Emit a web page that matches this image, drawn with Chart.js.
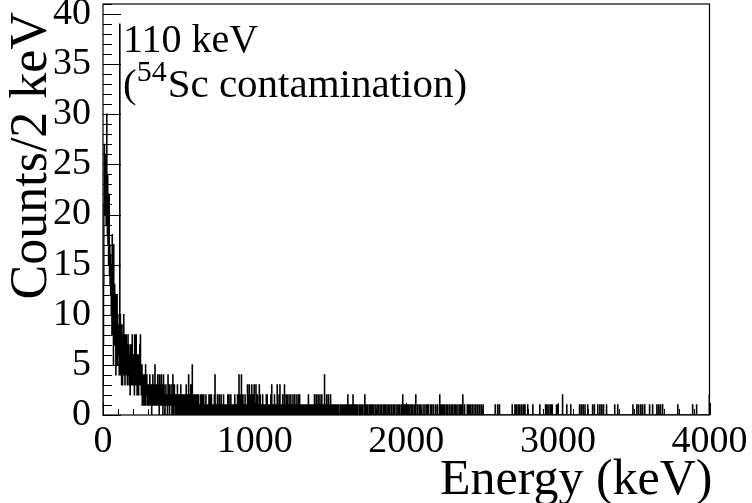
<!DOCTYPE html>
<html>
<head>
<meta charset="utf-8">
<script src="https://cdn.jsdelivr.net/npm/chart.js@4.4.1/dist/chart.umd.min.js"></script>
<style>
  html, body { margin: 0; padding: 0; background: #fff; }
  canvas { display: block; }
</style>
</head>
<body>
<canvas id="spectrum" width="752" height="503"></canvas>
<script>
// Energy spectrum, 2 keV bins from 0 to 4000 keV
const BIN_KEV = 2;
const E_MIN = 0;
const E_MAX = 4000;
const Y_MAX = 41;

const xTickStep = 1000;
const xMinorStep = 100;
const yTickStep = 5;
const yMinorStep = 1;

// Counts per 2 keV bin, 0 - 1000 keV (25 bins = 50 keV per line)
const lowCounts = [
  3, 7, 13, 21, 27, 24, 25, 20, 26, 22, 19, 23, 30, 21, 18, 24, 17, 20, 15, 19, 22, 14, 17, 13, 16,
  12, 15, 10, 14, 8, 18, 9, 13, 12, 5, 17, 11, 9, 13, 7, 10, 12, 4, 11, 6, 9, 12, 5, 10, 8,
  8, 6, 9, 4, 7, 39, 6, 10, 4, 8, 7, 3, 9, 6, 3, 8, 7, 5, 10, 4, 6, 8, 3, 7, 5,
  6, 8, 4, 7, 5, 3, 6, 8, 4, 5, 7, 3, 6, 4, 2, 5, 7, 4, 6, 3, 5, 8, 4, 6, 3,
  5, 4, 6, 2, 8, 5, 3, 7, 4, 8, 3, 5, 2, 6, 4, 3, 5, 2, 6, 3, 4, 7, 5, 8, 3,
  4, 2, 3, 5, 1, 3, 2, 4, 3, 1, 2, 4, 2, 3, 1, 5, 2, 3, 2, 4, 1, 3, 2, 1, 3,
  2, 1, 3, 2, 4, 1, 2, 3, 1, 2, 0, 3, 2, 1, 4, 2, 1, 3, 2, 1, 2, 5, 1, 3, 2,
  1, 2, 3, 1, 2, 4, 1, 2, 3, 2, 0, 4, 1, 3, 2, 1, 2, 4, 1, 2, 3, 1, 0, 2, 4,
  1, 3, 2, 1, 0, 2, 1, 3, 2, 1, 2, 1, 0, 2, 4, 1, 2, 1, 3, 0, 2, 1, 2, 1, 3,
  1, 2, 0, 1, 2, 4, 1, 0, 2, 1, 3, 1, 2, 0, 1, 2, 1, 0, 2, 1, 3, 1, 0, 2, 1,
  2, 1, 0, 1, 2, 1, 3, 0, 1, 2, 1, 0, 1, 2, 1, 0, 2, 1, 1, 0, 2, 1, 0, 1, 3,
  1, 0, 2, 1, 1, 0, 2, 4, 1, 0, 1, 2, 0, 1, 3, 1, 0, 2, 1, 5, 1, 0, 2, 1, 0,
  2, 1, 0, 1, 2, 0, 1, 1, 0, 2, 1, 0, 1, 0, 2, 1, 0, 1, 1, 0, 1, 2, 0, 1, 1,
  2, 0, 1, 2, 1, 0, 1, 2, 0, 1, 0, 1, 1, 0, 2, 1, 0, 0, 1, 1, 0, 1, 0, 1, 2,
  1, 0, 2, 1, 0, 1, 1, 2, 0, 1, 0, 1, 0, 1, 1, 0, 1, 2, 0, 4, 1, 0, 1, 0, 1,
  0, 1, 2, 0, 1, 0, 1, 1, 2, 0, 1, 0, 1, 0, 2, 1, 0, 1, 0, 1, 1, 0, 2, 0, 1,
  1, 0, 1, 0, 1, 1, 0, 1, 0, 0, 1, 2, 0, 1, 0, 2, 1, 0, 1, 0, 1, 2, 0, 1, 0,
  1, 0, 1, 0, 1, 0, 1, 1, 0, 2, 0, 1, 0, 1, 0, 1, 1, 0, 2, 0, 1, 0, 1, 4, 0,
  1, 2, 0, 1, 0, 1, 4, 1, 0, 1, 0, 2, 1, 0, 1, 0, 1, 0, 2, 1, 0, 1, 0, 1, 0,
  1, 3, 0, 1, 2, 0, 1, 3, 1, 0, 1, 0, 2, 1, 0, 3, 1, 0, 1, 0, 2, 0, 1, 3, 0
];

// Above 1000 keV: lower bin edges (keV) of the occupied bins, grouped by count
const tailOnes = [
  1002, 1012, 1024, 1040, 1046, 1058, 1064, 1070, 1088, 1094, 1100, 1118, 1124, 1136, 1142,
  1154, 1172, 1178, 1190, 1202, 1220, 1232, 1246, 1258, 1272, 1284, 1304, 1312, 1318, 1326,
  1334, 1340, 1346, 1362, 1370, 1378, 1386, 1400, 1412, 1424, 1436, 1452, 1466, 1480, 1494,
  1508, 1516, 1524, 1534, 1542, 1550, 1562, 1570, 1580, 1590, 1598, 1606, 1622, 1632, 1640,
  1656, 1666, 1676, 1688, 1696, 1704, 1714, 1734, 1742, 1754, 1764, 1772, 1782, 1794, 1806,
  1814, 1826, 1836, 1848, 1856, 1866, 1878, 1888, 1900, 1912, 1920, 1932, 1944, 1954, 1966,
  1986, 1996, 2008, 2018, 2030, 2040, 2052, 2074, 2086, 2096, 2110, 2122, 2134, 2144, 2158,
  2168, 2180, 2194, 2206, 2230, 2240, 2250, 2262, 2272, 2284, 2296, 2306, 2318, 2328, 2340,
  2352, 2362, 2384, 2402, 2412, 2422, 2434, 2446, 2458, 2470, 2482, 2494, 2506, 2586, 2602,
  2614, 2698, 2716, 2726, 2738, 2748, 2760, 2772, 2782, 2800, 2834, 2880, 2918, 2928, 2940,
  2952, 2962, 2990, 2998, 3058, 3084, 3142, 3154, 3166, 3178, 3196, 3228, 3240, 3262, 3276,
  3288, 3300, 3320, 3374, 3394, 3494, 3520, 3532, 3546, 3558, 3572, 3604, 3624, 3652, 3664,
  3676, 3690, 3790, 3888, 3914
];
const tailTwos = [
  1018, 1036, 1052, 1076, 1082, 1106, 1130, 1160, 1184, 1208, 1214, 1226, 1238, 1252, 1264,
  1278, 1290, 1296, 1354, 1394, 1406, 1418, 1430, 1442, 1474, 1486, 1500, 1614, 1648, 1726,
  1976, 2062, 2220, 2372, 3030, 3998
];
const tailThrees = [1008, 1030, 1112, 1148, 1166, 1196];
const tailFours = [1460];

const xTitle = 'Energy (keV)';
const yTitle = 'Counts/2 keV';
const peakLabel = '110 keV';
const peakNoteOpen = '(';
const peakNoteMass = '54';
const peakNoteRest = 'Sc contamination)';

// ---- assemble the histogram ----
const nBins = (E_MAX - E_MIN) / BIN_KEV;
const counts = new Array(nBins).fill(0);
lowCounts.forEach((c, i) => { counts[i] = c; });
const binOf = e => Math.floor((e - E_MIN) / BIN_KEV);
tailOnes.forEach(e => { counts[binOf(e)] = 1; });
tailTwos.forEach(e => { counts[binOf(e)] = 2; });
tailThrees.forEach(e => { counts[binOf(e)] = 3; });
tailFours.forEach(e => { counts[binOf(e)] = 4; });

// outline points at the lower bin edges; the stepped line holds each value across its bin
const points = [{ x: E_MIN, y: 0 }];
counts.forEach((c, i) => points.push({ x: E_MIN + i * BIN_KEV, y: c }));
points.push({ x: E_MAX, y: counts[nBins - 1] });

const SERIF = '"Liberation Serif", "DejaVu Serif", serif';

// frame, inward tick marks, axis titles and the peak note
const frameAndText = {
  id: 'frameAndText',
  afterDraw(chart) {
    const { ctx, chartArea: a, scales: { x, y } } = chart;
    ctx.save();
    ctx.strokeStyle = '#000';
    ctx.lineWidth = 1.2;
    ctx.strokeRect(a.left, a.top, a.right - a.left, a.bottom - a.top);

    ctx.lineWidth = 1;
    ctx.beginPath();
    for (let v = 0; v <= Y_MAX; v += yMinorStep) {
      const py = Math.round(y.getPixelForValue(v)) + 0.5;
      const len = v % yTickStep === 0 ? 18 : 9;
      ctx.moveTo(a.left, py);
      ctx.lineTo(a.left + len, py);
    }
    for (let v = E_MIN; v <= E_MAX; v += xMinorStep) {
      const px = Math.round(x.getPixelForValue(v)) + 0.5;
      const len = v % xTickStep === 0 ? 12 : 6;
      ctx.moveTo(px, a.bottom);
      ctx.lineTo(px, a.bottom - len);
    }
    ctx.stroke();

    ctx.fillStyle = '#000';
    ctx.textBaseline = 'alphabetic';

    // x title, right-aligned under the axis
    ctx.font = '50px ' + SERIF;
    ctx.textAlign = 'right';
    ctx.fillText(xTitle, a.right + 3, 494);

    // y title, rotated, ending near the top of the axis
    ctx.save();
    ctx.font = '52px ' + SERIF;
    ctx.translate(46, 12);
    ctx.rotate(-Math.PI / 2);
    ctx.textAlign = 'right';
    ctx.fillText(yTitle, 0, 0);
    ctx.restore();

    // peak note
    ctx.textAlign = 'left';
    ctx.font = '40px ' + SERIF;
    ctx.fillText(peakLabel, 123, 52);
    let cx = 123;
    ctx.font = '41px ' + SERIF;
    ctx.fillText(peakNoteOpen, cx, 97);
    cx += ctx.measureText(peakNoteOpen).width;
    ctx.font = '30px ' + SERIF;
    ctx.fillText(peakNoteMass, cx, 81);
    cx += ctx.measureText(peakNoteMass).width + 1;
    ctx.font = '41px ' + SERIF;
    ctx.fillText(peakNoteRest, cx, 97);
    ctx.restore();
  }
};

new Chart(document.getElementById('spectrum'), {
  type: 'line',
  data: {
    datasets: [{
      data: points,
      borderColor: '#000',
      borderWidth: 1.3,
      pointRadius: 0,
      stepped: true,
      fill: false,
      tension: 0
    }]
  },
  options: {
    responsive: false,
    animation: false,
    devicePixelRatio: 1,
    parsing: false,
    events: [],
    layout: { padding: { left: 0, right: 42.5, top: 4, bottom: 0 } },
    plugins: { legend: { display: false }, tooltip: { enabled: false } },
    scales: {
      x: {
        type: 'linear',
        min: E_MIN,
        max: E_MAX,
        grid: { display: false },
        border: { display: false },
        ticks: {
          stepSize: xTickStep,
          autoSkip: false,
          maxRotation: 0,
          includeBounds: false,
          padding: 0,
          color: '#000',
          font: { family: SERIF, size: 38, lineHeight: 1 },
          callback: v => String(v)
        },
        afterFit(s) { s.height = 88; s.paddingLeft = 0; s.paddingRight = 0; }
      },
      y: {
        type: 'linear',
        min: 0,
        max: Y_MAX,
        grid: { display: false },
        border: { display: false },
        ticks: {
          stepSize: yTickStep,
          autoSkip: false,
          includeBounds: false,
          padding: 4,
          color: '#000',
          font: { family: SERIF, size: 38, lineHeight: 1 },
          callback: v => String(v)
        },
        afterFit(s) { s.width = 103; s.paddingTop = 0; s.paddingBottom = 0; }
      }
    }
  },
  plugins: [frameAndText]
});
</script>
</body>
</html>
